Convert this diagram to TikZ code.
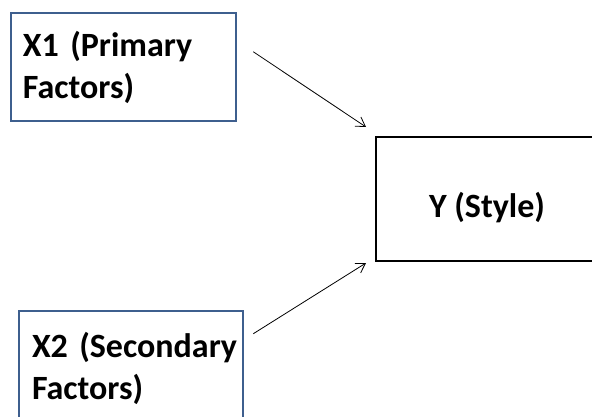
\documentclass[tikz,border=0pt]{standalone}
\usepackage{fontspec}
\setmainfont{Carlito}
\usetikzlibrary{calc,arrows.meta}
\definecolor{boxblue}{HTML}{3E5F8E}
\tikzset{
  factorbox/.style={draw=boxblue, line width=2.5pt, align=left, inner xsep=12pt,
    font=\bfseries\fontsize{34}{42}\selectfont},
  stylebox/.style={draw=black, line width=2pt, align=center,
    text height=40pt, text depth=4pt, font=\bfseries\fontsize{34}{42}\selectfont},
  arr/.style={-{Straight Barb[length=9pt,width=11pt]}, line width=0.8pt}
}

\begin{document}
\begin{tikzpicture}[x=1pt,y=1pt]
			%%%%% START %%%%%
			
			\useasboundingbox (0, 0) rectangle (592, 416);
			\clip (0, 0) rectangle (592, 416);
			
			\node[factorbox, text width=201pt, minimum height=108pt] (x1) at (123.5, 349) {\mbox{X1 (Primary}\\Factors)};
			\node[factorbox, inner xsep=13pt, text width=198pt, minimum height=115pt] (x2) at (131, 47.5) {\mbox{X2 (Secondary}\\Factors)};
			\node[stylebox, minimum width=222pt, minimum height=124pt] (y) at (487, 217) {Y (Style)};
			
			\draw[arr] ($(x1.north east)+(16, -40)$) -- ($(y.north west)+(-9, 9)$);
			\draw[arr] ($(x2.north east)+(9, -24)$) -- ($(y.south west)+(-9, -1)$);
			
			%%%%% END %%%%%
		\end{tikzpicture}
\end{document}
